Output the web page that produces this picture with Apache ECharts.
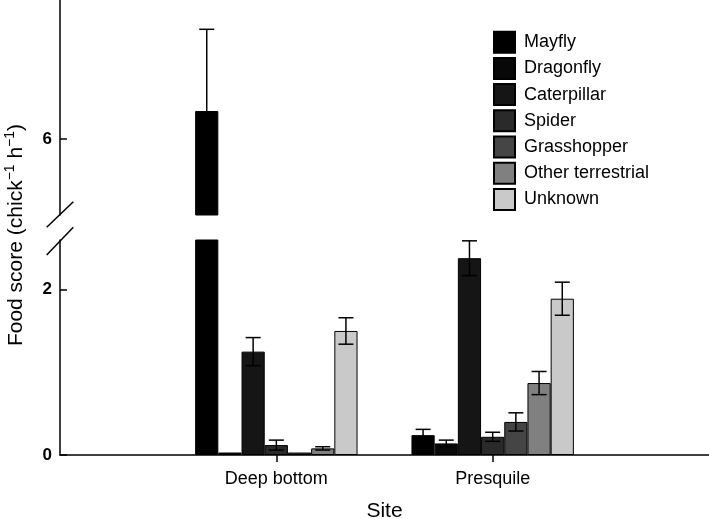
<!DOCTYPE html>
<html><head><meta charset="utf-8">
<script src="https://cdn.jsdelivr.net/npm/echarts@6/dist/echarts.min.js"></script>
<style>html,body{margin:0;padding:0;background:#fff}#c{width:709px;height:519px}</style>
</head><body><div id="c"></div>
<script>
// ---- data ----
const sites = ['Deep bottom', 'Presquile'];
const foods = ['Mayfly', 'Dragonfly', 'Caterpillar', 'Spider', 'Grasshopper', 'Other terrestrial', 'Unknown'];
const deepBottom   = [6.34, 0.03, 1.25, 0.12, 0.03, 0.08, 1.50];
const deepBottomSE = [0.99, 0,    0.17, 0.06, 0,    0.02, 0.16];
const presquile    = [0.24, 0.14, 2.38, 0.22, 0.40, 0.87, 1.89];
const presquileSE  = [0.07, 0.04, 0.21, 0.055, 0.11, 0.14, 0.20];
const lowerTicks = [0, 2];
const upperTicks = [6];
const lowerRange = [0, 2.6];
const upperRange = [5.08, 7.685];

// ---- styles ----
const colors = ['#000000', '#080808', '#151515', '#2a2a2a', '#454545', '#808080', '#c9c9c9'];
const FONT = '"Liberation Sans", Arial, sans-serif';
const BAR_W = 23.2;
const CAP = 15;

const cats = [''].concat(sites, ['']);
const values = [deepBottom, presquile];
const ses = [deepBottomSE, presquileSE];

function errRender(params, api) {
  const c = api.value(0), v = api.value(1), e = api.value(2), k = api.value(3);
  const hi = api.coord([c, v + e]);
  const lo = api.coord([c, v - e]);
  const x = hi[0] + (k - (foods.length - 1) / 2) * BAR_W;
  const h = CAP / 2;
  const st = { stroke: '#000', lineWidth: 1.5 };
  return { type: 'group', children: [
    { type: 'line', shape: { x1: x, y1: hi[1], x2: x, y2: lo[1] }, style: st },
    { type: 'line', shape: { x1: x - h, y1: hi[1], x2: x + h, y2: hi[1] }, style: st },
    { type: 'line', shape: { x1: x - h, y1: lo[1], x2: x + h, y2: lo[1] }, style: st }
  ]};
}

const series = [];
const errUpper = [], errLower = [];
foods.forEach((f, i) => {
  const lower = [null], upper = [null];
  sites.forEach((s, j) => {
    const v = values[j][i];
    lower.push(v);
    upper.push(v > lowerRange[1] ? v : null);
    if (ses[j][i] > 0) {
      (v > lowerRange[1] ? errUpper : errLower).push([j + 1, v, ses[j][i], i]);
    }
  });
  lower.push(null); upper.push(null);
  const common = {
    name: f, type: 'bar', barWidth: BAR_W, barGap: '0%', clip: true,
    itemStyle: { color: colors[i], borderColor: '#000', borderWidth: 1 },
    emphasis: { disabled: true }, animation: false
  };
  series.push(Object.assign({}, common, { xAxisIndex: 1, yAxisIndex: 1, data: lower }));
  series.push(Object.assign({}, common, { xAxisIndex: 0, yAxisIndex: 0, data: upper }));
});
series.push({ type: 'custom', xAxisIndex: 1, yAxisIndex: 1, renderItem: errRender, data: errLower, z: 5, animation: false, encode: { x: 0, y: 1 } });
series.push({ type: 'custom', xAxisIndex: 0, yAxisIndex: 0, renderItem: errRender, data: errUpper, z: 5, animation: false, encode: { x: 0, y: 1 } });

const axisLineStyle = { color: '#000', width: 1.5 };
const yCommon = {
  type: 'value', splitLine: { show: false },
  axisLine: { show: true, lineStyle: axisLineStyle },
  axisTick: { show: true, inside: true, length: 7, lineStyle: axisLineStyle },
  axisLabel: { color: '#000', fontFamily: FONT, fontSize: 17, fontWeight: 'bold', margin: 8 }
};

const option = {
  animation: false,
  backgroundColor: '#fff',
  textStyle: { fontFamily: FONT },
  grid: [
    { left: 60, right: 0, top: 0, height: 215, outerBoundsMode: 'none', containLabel: false },
    { left: 60, right: 0, top: 240, bottom: 64, outerBoundsMode: 'none', containLabel: false }
  ],
  xAxis: [
    { type: 'category', gridIndex: 0, data: cats, boundaryGap: false, show: false },
    { type: 'category', gridIndex: 1, data: cats, boundaryGap: false,
      axisLine: { show: true, lineStyle: axisLineStyle },
      axisTick: { show: true, length: 7, lineStyle: axisLineStyle, interval: (idx) => idx === 1 || idx === 2 },
      axisLabel: { color: '#000', fontFamily: FONT, fontSize: 18, margin: 15, interval: 0 },
      name: 'Site', nameLocation: 'middle', nameGap: 46,
      nameTextStyle: { color: '#000', fontFamily: FONT, fontSize: 21 }
    }
  ],
  yAxis: [
    Object.assign({}, yCommon, { gridIndex: 0, min: upperRange[0], max: upperRange[1],
      axisTick: Object.assign({}, yCommon.axisTick, { customValues: upperTicks }),
      axisLabel: Object.assign({}, yCommon.axisLabel, { customValues: upperTicks }) }),
    Object.assign({}, yCommon, { gridIndex: 1, min: lowerRange[0], max: lowerRange[1],
      axisTick: Object.assign({}, yCommon.axisTick, { customValues: lowerTicks }),
      axisLabel: Object.assign({}, yCommon.axisLabel, { customValues: lowerTicks }) })
  ],
  legend: {
    data: foods, orient: 'vertical', left: 493, top: 30.7, padding: 0,
    itemWidth: 21, itemHeight: 21, itemGap: 3.2, icon: 'rect', selectedMode: false,
    textStyle: { color: '#000', fontFamily: FONT, fontSize: 18, padding: [0, 0, 0, 4] }
  },
  graphic: [
    { type: 'line', shape: { x1: 46.7, y1: 227.3, x2: 73.3, y2: 201.7 }, style: { stroke: '#000', lineWidth: 1.5 } },
    { type: 'line', shape: { x1: 46.7, y1: 255, x2: 73.3, y2: 227.3 }, style: { stroke: '#000', lineWidth: 1.5 } },
    { type: 'text', x: 16, y: 235, rotation: Math.PI / 2,
      style: {
        text: '{a|Food score (chick}{s|−1}{a| h}{s|−1}{a|)}',
        align: 'center', verticalAlign: 'middle', fill: '#000',
        rich: {
          a: { fontFamily: FONT, fontSize: 21, fill: '#000' },
          s: { fontFamily: FONT, fontSize: 14, fill: '#000', padding: [0, 0, 12, 0] }
        }
      }
    }
  ],
  series: series
};

const chart = echarts.init(document.getElementById('c'), null, { renderer: 'canvas' });
chart.setOption(option);
</script>
</body></html>
